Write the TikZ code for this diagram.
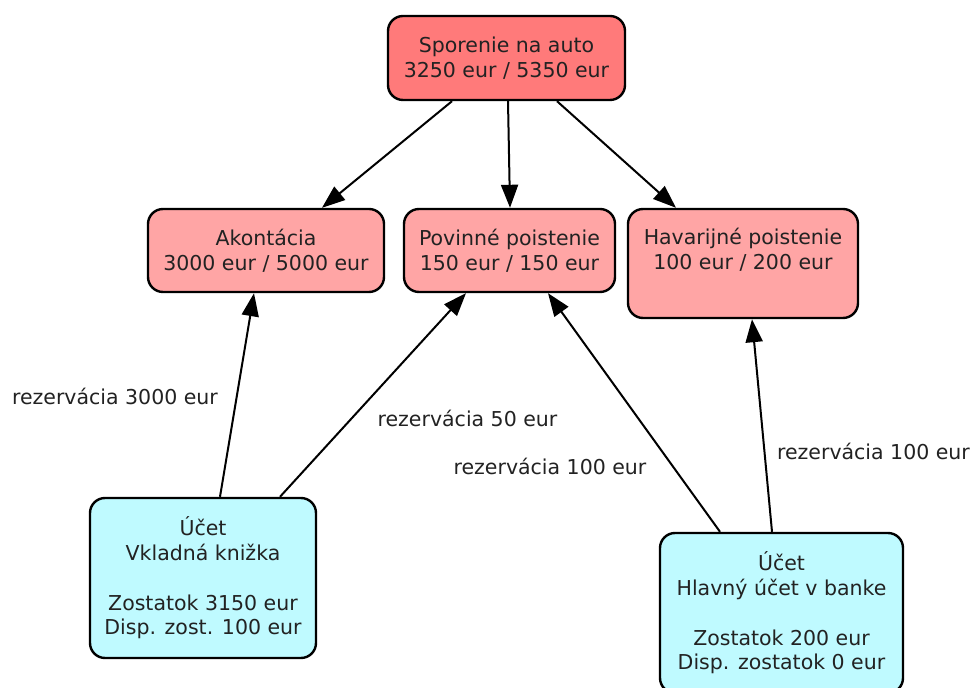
\documentclass[tikz,border=0pt]{standalone}
\usepackage{fontspec}
\setmainfont{DejaVu Sans}
\usetikzlibrary{arrows.meta,positioning}

\definecolor{goalred}{HTML}{FF7A7A}
\definecolor{partred}{HTML}{FFA5A5}
\definecolor{acctcyan}{HTML}{BFFAFF}
\definecolor{txtgray}{HTML}{222222}

\begin{document}
\begin{tikzpicture}[
    x=0.5pt, y=-0.5pt,
    every node/.style={font=\fontsize{10.25}{12.4}\selectfont, text=txtgray},
    goal/.style={rectangle, draw, line width=1.2pt, rounded corners=7.5pt, align=center, fill=partred, inner sep=0pt},
    acct/.style={goal, fill=acctcyan},
    lbl/.style={inner sep=0pt},
    arrow/.style={line width=1pt, -{Triangle[length=11.5pt,width=8.5pt]}}
]
\useasboundingbox (0,0) rectangle (973,688);

% Savings goal and its parts
\node[goal, fill=goalred, minimum width=118.5pt, minimum height=42pt] (auto) at (506.5,58) {Sporenie na auto\\3250 eur / 5350 eur};
\node[goal, minimum width=118pt, minimum height=41.5pt] (ako) at (266,250.5) {Akontácia\\3000 eur / 5000 eur};
\node[goal, minimum width=105.5pt, minimum height=41.5pt] (pov) at (509.5,250.5) {Povinné poistenie\\150 eur / 150 eur};
\node[goal, minimum width=115pt, minimum height=54.5pt] (hav) at (743,263.5) {Havarijné poistenie\\100 eur / 200 eur\\[2pt]\mbox{}};

% Accounts
\node[acct, minimum width=113pt, minimum height=80pt] (vkl) at (203,578) {Účet\\Vkladná knižka\\[12.4pt]Zostatok 3150 eur\\Disp. zost. 100 eur};
\node[acct, minimum width=121.5pt, minimum height=80pt] (hlav) at (781.5,613) {Účet\\Hlavný účet v banke\\[12.4pt]Zostatok 200 eur\\Disp. zostatok 0 eur};

% Goal breakdown
\draw[arrow] ([xshift=-27.25pt]auto.south) -- ([xshift=28pt]ako.north);
\draw[arrow] ([xshift=0.75pt]auto.south) -- ([xshift=0.25pt]pov.north);
\draw[arrow] ([xshift=25.25pt]auto.south) -- ([xshift=-33.5pt]hav.north);

% Reservations
\draw[arrow] ([xshift=8.5pt]vkl.north) -- ([xshift=-6pt]ako.south);
\draw[arrow] ([xshift=38.5pt]vkl.north) -- ([xshift=-21.75pt]pov.south);
\draw[arrow] ([xshift=-30.75pt]hlav.north) -- ([xshift=19.25pt]pov.south);
\draw[arrow] ([xshift=-4.75pt]hlav.north) -- ([xshift=4.5pt]hav.south);

\node[lbl] (r3000) at (115,396) {rezervácia 3000 eur};
\node[lbl] (r50) at (467.5,418) {rezervácia 50 eur};
\node[lbl] (r100a) at (550,466) {rezervácia 100 eur};
\node[lbl] (r100b) at (873.5,451) {rezervácia 100 eur};

\end{tikzpicture}
\end{document}
